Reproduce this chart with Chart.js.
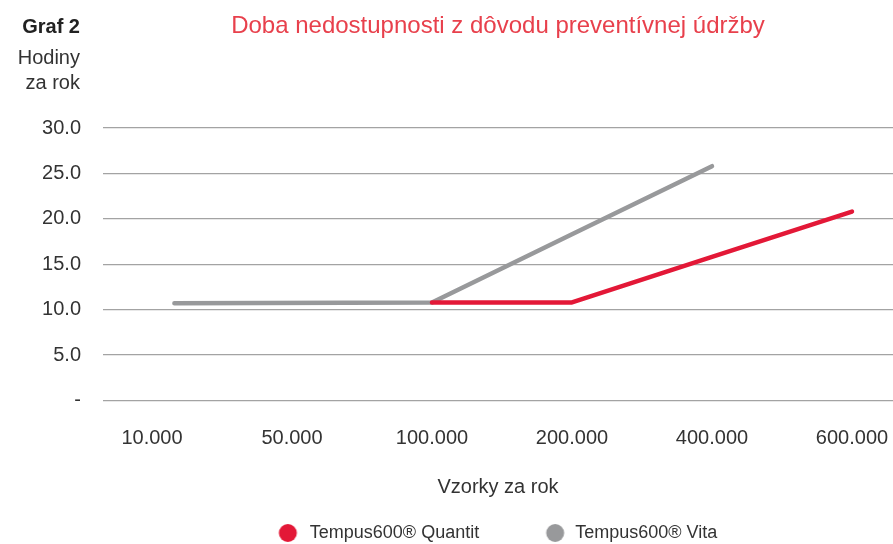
<!DOCTYPE html>
<html>
  <head>
    <title>Graf 2</title>
    <script src="https://cdn.jsdelivr.net/npm/chart.js"></script>
    <style>
      body {
        margin: 0;
        font-family: "Liberation Sans", Arial, sans-serif;
        background: #fff;
      }
      .wrap {
        position: relative;
        width: 893px;
        height: 544px;
      }
      .txt {
        position: absolute;
        white-space: nowrap;
      }
      #graf { right: 813px; top: 15px; font-size: 20px; font-weight: bold; color: #222; }
      #unit { right: 813px; top: 45px; font-size: 20px; text-align: right; line-height: 25px; color: #333; }
      #title { left: 0; width: 996px; top: 11px; font-size: 24px; color: #e8404c; text-align: center; }
      canvas { position: absolute; left: 0; top: 0; }
    </style>
  </head>
  <body>
    <div class="wrap">
      <canvas id="chart" width="893" height="544"></canvas>
      <div class="txt" id="graf">Graf 2</div>
      <div class="txt" id="unit">Hodiny<br>za rok</div>
      <div class="txt" id="title">Doba nedostupnosti z dôvodu preventívnej údržby</div>
    </div>

    <script>
      // categories on the x axis
      const categories = ["10.000", "50.000", "100.000", "200.000", "400.000", "600.000"];
      const yTicks = [0, 5, 10, 15, 20, 25, 30];

      // Tempus600 Quantit (red)
      const quantitX = [2, 3, 4, 5];
      const quantitY = [10.8, 10.8, 15.8, 20.8];

      // Tempus600 Vita (gray) - the line starts a bit right of the first label
      const vitaX = [0.16, 2, 3, 4];
      const vitaY = [10.7, 10.8, 18.3, 25.8];

      const red = "#e31837";
      const gray = "#98999b";
      const fontFamily = "'Liberation Sans', Arial, sans-serif";

      const toPoints = (xs, ys) => xs.map((x, i) => ({ x: x, y: ys[i] }));

      // legend marker: a dot near the right side of a wide transparent box
      function legendDot(color, cx) {
        const c = document.createElement("canvas");
        c.width = 90;
        c.height = 20;
        const g = c.getContext("2d");
        g.fillStyle = color;
        g.beginPath();
        g.arc(cx, 10, 9, 0, Math.PI * 2);
        g.fill();
        return c;
      }

      new Chart(document.getElementById("chart"), {
        type: "line",
        data: {
          datasets: [
            {
              label: "Tempus600® Quantit",
              data: toPoints(quantitX, quantitY),
              borderColor: red,
              backgroundColor: red,
              borderWidth: 4.5,
              borderCapStyle: "round",
              borderJoinStyle: "round",
              pointRadius: 0,
              pointStyle: legendDot(red, 75.5),
            },
            {
              label: "Tempus600® Vita",
              data: toPoints(vitaX, vitaY),
              borderColor: gray,
              backgroundColor: gray,
              borderWidth: 4.5,
              borderCapStyle: "round",
              borderJoinStyle: "round",
              pointRadius: 0,
              pointStyle: legendDot(gray, 77.5),
            },
          ],
        },
        options: {
          responsive: false,
          animation: false,
          layout: { padding: { top: 128, right: 0, left: 38, bottom: -8 } },
          plugins: {
            tooltip: { enabled: false },
            legend: {
              position: "bottom",
              labels: {
                usePointStyle: true,
                pointStyleWidth: 87,
                padding: 0,
                color: "#333",
                font: { family: fontFamily, size: 18 },
              },
            },
          },
          scales: {
            x: {
              type: "linear",
              min: -0.35,
              max: 5.293,
              grid: { display: false, drawTicks: false },
              border: { display: false },
              afterBuildTicks: (s) => {
                s.ticks = categories.map((c, i) => ({ value: i }));
              },
              afterFit: (s) => {
                s.height = 123.5;
                s.paddingLeft = 0;
                s.paddingRight = 0;
              },
              ticks: {
                padding: 26,
                color: "#333",
                font: { family: fontFamily, size: 20 },
                callback: (v) => categories[v],
              },
              title: {
                display: true,
                text: "Vzorky za rok",
                color: "#333",
                font: { family: fontFamily, size: 20 },
                padding: { top: 20, bottom: 25 },
              },
            },
            y: {
              min: 0,
              max: 30,
              afterFit: (s) => { s.width = 65; },
              afterBuildTicks: (s) => {
                s.ticks = yTicks.map((v) => ({ value: v }));
              },
              grid: { color: "#a3a3a3", lineWidth: 1.3, drawTicks: false },
              border: { display: false },
              ticks: {
                padding: 22,
                color: "#333",
                font: { family: fontFamily, size: 20 },
                callback: (v) => (v === 0 ? "-" : v.toFixed(1)),
              },
            },
          },
        },
      });
    </script>
  </body>
</html>
